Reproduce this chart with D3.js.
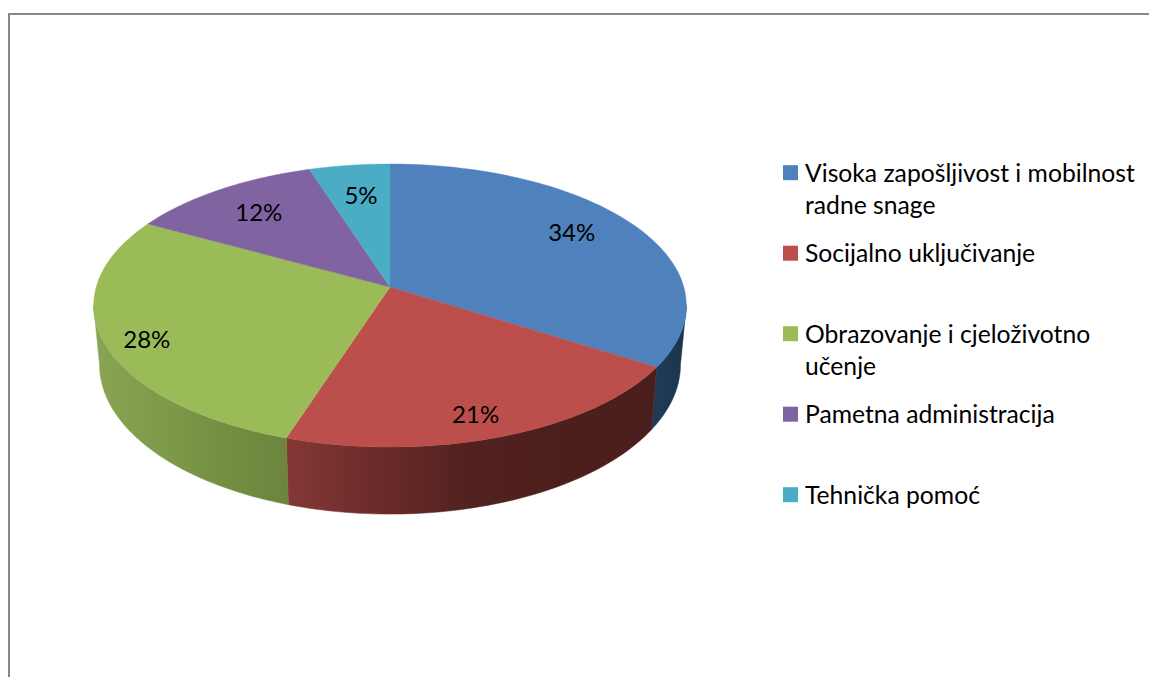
<!DOCTYPE html>
<html>
<head>
<meta charset="utf-8">
<script src="https://cdn.jsdelivr.net/npm/d3@7"></script>
<style>
  html, body { margin: 0; padding: 0; background: #fff; overflow: hidden; }
  svg { display: block; }
  text { font-family: Lato, "Noto Sans", sans-serif; fill: #000; }
</style>
</head>
<body>
<div id="chart"></div>
<script>
// data
const categories = [
  ["Visoka zapošljivost i mobilnost", "radne snage"],
  ["Socijalno uključivanje"],
  ["Obrazovanje i cjeloživotno", "učenje"],
  ["Pametna administracija"],
  ["Tehnička pomoć"]
];
const values = [34, 21, 28, 12, 5];
const colors = ["#4f81bd", "#bc4f4c", "#9bbb59", "#8064a2", "#4bacc6"];

// side wall shading per slice, left to right
const wallStops = [
  ["#1f3c58", "#1c344e"],
  ["#853836", "#6a2b29", "#52211f", "#4c1f1c", "#4a1e1c"],
  ["#89a452", "#7f9a4a", "#748f42", "#6c843d"],
  [],
  []
];
// where the labels sit on the disc (radius fraction, degrees off the slice middle)
const labelRadius = [0.774, 0.856, 0.866, 0.754, 0.732];
const labelShift = [-3.8, 2.1, -2.7, 0, 0.5];

const width = 1149, height = 677;
const svg = d3.select("#chart").append("svg")
  .attr("width", width).attr("height", height)
  .attr("viewBox", [0, 0, width, height]);

// chart frame, runs off the right and bottom of the image
svg.append("rect")
  .attr("x", 9).attr("y", 14)
  .attr("width", width).attr("height", height)
  .attr("fill", "#fff").attr("stroke", "#868686").attr("stroke-width", 2);

// perspective of the disc: centre sits above the middle of the ellipse
const persp = -0.1307;
const top3d = { x: 390, y: 287, sx: 293.8, sy: 139.1 };
const bot3d = { x: 390, y: 345, sx: 288, sy: 147 };
const project = (a, r, p) => {
  const u = r * Math.sin(a), v = -r * Math.cos(a), w = 1 + persp * v;
  return [p.x + p.sx * u / w, p.y + p.sy * v / w];
};

const pie = d3.pie().sort(null).value(d => d);
const arcs = pie(values);
const line = d3.line();
const sample = (a0, a1, p) =>
  d3.range(0, 61).map(i => project(a0 + (a1 - a0) * i / 60, 1, p));

// walls only show between the two silhouette tangents
const rad = d3.scaleLinear().domain([0, 360]).range([0, 2 * Math.PI]);
const wallFrom = rad(97.5), wallTo = rad(262.5);

const defs = svg.append("defs");
const g = svg.append("g");

arcs.forEach((d, i) => {
  const a0 = Math.max(d.startAngle, wallFrom), a1 = Math.min(d.endAngle, wallTo);
  if (a1 <= a0) return;
  const grad = defs.append("linearGradient").attr("id", "wall" + i);
  wallStops[i].forEach((c, j, all) => {
    grad.append("stop").attr("offset", j / (all.length - 1)).attr("stop-color", c);
  });
  const pts = sample(a0, a1, top3d).concat(sample(a1, a0, bot3d));
  g.append("path")
    .attr("d", line(pts) + "Z")
    .attr("fill", `url(#wall${i})`)
    .attr("stroke", `url(#wall${i})`).attr("stroke-width", 0.5);
});

// top face
g.selectAll("path.slice")
  .data(arcs)
  .join("path")
  .attr("class", "slice")
  .attr("d", d => line([[top3d.x, top3d.y]].concat(sample(d.startAngle, d.endAngle, top3d))) + "Z")
  .attr("fill", (d, i) => colors[i])
  .attr("stroke", (d, i) => colors[i]).attr("stroke-width", 0.4);

// value labels
g.selectAll("text.val")
  .data(arcs)
  .join("text")
  .attr("class", "val")
  .attr("transform", (d, i) => {
    const mid = (d.startAngle + d.endAngle) / 2 + rad(labelShift[i]);
    return `translate(${project(mid, labelRadius[i], top3d)})`;
  })
  .attr("text-anchor", "middle")
  .attr("dy", "0.36em")
  .style("font-size", "24px")
  .text(d => d.value + "%");

// legend
const legendY = d3.scaleLinear().domain([0, 4]).range([172.7, 494.7]);
const legend = svg.append("g").selectAll("g")
  .data(categories)
  .join("g")
  .attr("transform", (d, i) => `translate(783,${legendY(i)})`);

legend.append("rect")
  .attr("x", 0).attr("y", -7.5)
  .attr("width", 15).attr("height", 15)
  .attr("fill", (d, i) => colors[i]);

legend.selectAll("text")
  .data(d => d)
  .join("text")
  .attr("x", 22)
  .attr("y", (d, i) => i * 32)
  .attr("dy", "0.36em")
  .style("font-size", "24.7px")
  .text(d => d);
</script>
</body>
</html>
